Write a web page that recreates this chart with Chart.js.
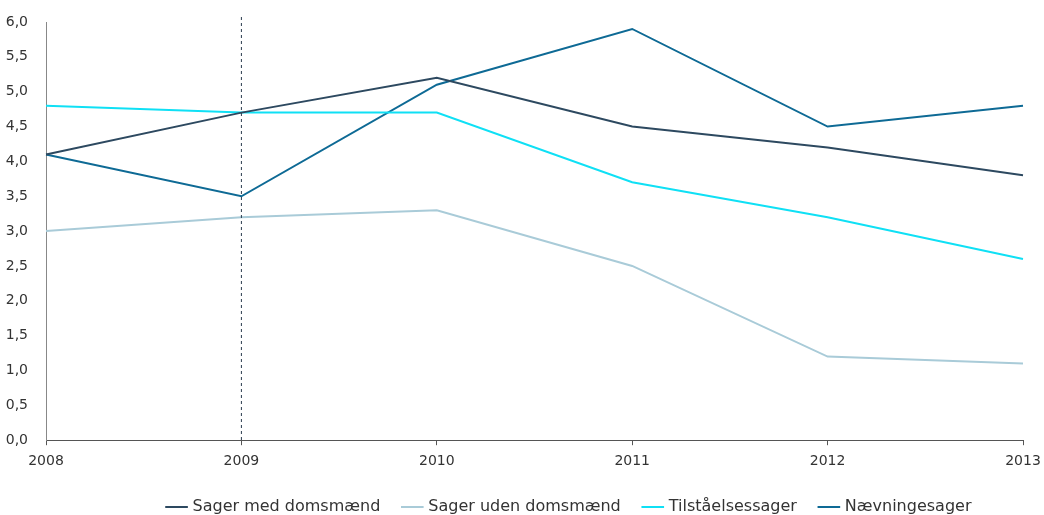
<!DOCTYPE html>
<html>
<head>
<meta charset="utf-8">
<script src="https://cdn.jsdelivr.net/npm/chart.js@4/dist/chart.umd.min.js"></script>
<style>
  html, body { margin: 0; padding: 0; background: #fff; }
  #wrap { width: 1044px; height: 515px; }
</style>
</head>
<body>
<div id="wrap"><canvas id="chart"></canvas></div>
<script>
var years = ['2008', '2009', '2010', '2011', '2012', '2013'];
var medDomsmaend = [4.1, 4.7, 5.2, 4.5, 4.2, 3.8];
var udenDomsmaend = [3.0, 3.2, 3.3, 2.5, 1.2, 1.1];
var tilstaaelse = [4.8, 4.7, 4.7, 3.7, 3.2, 2.6];
var naevninge = [4.1, 3.5, 5.1, 5.9, 4.5, 4.8];
var markerYear = '2009';

// dashed vertical marker line
var markerLine = {
    id: 'markerLine',
    afterDatasetsDraw: function(chart) {
        var x = chart.scales.x.getPixelForValue(years.indexOf(markerYear));
        var ctx = chart.ctx;
        ctx.save();
        ctx.strokeStyle = '#2b3b4e';
        ctx.lineWidth = 1;
        ctx.setLineDash([3, 3]);
        ctx.beginPath();
        ctx.moveTo(x, chart.chartArea.top - 5);
        ctx.lineTo(x, chart.chartArea.bottom);
        ctx.stroke();
        ctx.restore();
    }
};

// nudge the legend to where the original has it
var legendShift = {
    id: 'legendShift',
    afterLayout: function(chart) {
        var lg = chart.legend;
        lg.left += 48; lg.right += 48;
        lg.top -= 3; lg.bottom -= 3;
    }
};

function line(label, data, color) {
    return {
        label: label,
        data: data,
        borderColor: color,
        backgroundColor: color,
        borderWidth: 2,
        pointRadius: 0,
        tension: 0
    };
}

Chart.defaults.font.family = '"DejaVu Sans", sans-serif';
Chart.defaults.font.size = 14;
Chart.defaults.color = '#333';

new Chart(document.getElementById('chart').getContext('2d'), {
    type: 'line',
    data: {
        labels: years,
        datasets: [
            line('Sager med domsmænd', medDomsmaend, '#2d4960'),
            line('Sager uden domsmænd', udenDomsmaend, '#a9cbd8'),
            line('Tilståelsessager', tilstaaelse, '#0fe0f5'),
            line('Nævningesager', naevninge, '#0e6a95')
        ]
    },
    options: {
        responsive: true,
        maintainAspectRatio: false,
        animation: false,
        layout: { padding: { top: 22, right: 0, left: 0, bottom: -13 } },
        plugins: {
            legend: {
                position: 'bottom',
                labels: {
                    usePointStyle: true,
                    pointStyle: 'line',
                    boxWidth: 24,
                    padding: 24,
                    color: '#333',
                    font: { size: 16 }
                }
            },
            tooltip: { enabled: false }
        },
        scales: {
            x: {
                offset: false,
                grid: { display: true, drawOnChartArea: false, drawTicks: true, tickLength: 5, color: '#555' },
                border: { display: true, color: '#555' },
                ticks: { padding: 8, maxRotation: 0 },
                afterFit: function(scale) { scale.paddingRight = 21; }
            },
            y: {
                min: 0,
                max: 6,
                grid: { display: false },
                border: { display: true, color: '#888' },
                ticks: {
                    stepSize: 0.5,
                    padding: 10,
                    callback: function(v) { return v.toFixed(1).replace('.', ','); }
                },
                afterFit: function(scale) { scale.width = 46; }
            }
        }
    },
    plugins: [markerLine, legendShift]
});
</script>
</body>
</html>
